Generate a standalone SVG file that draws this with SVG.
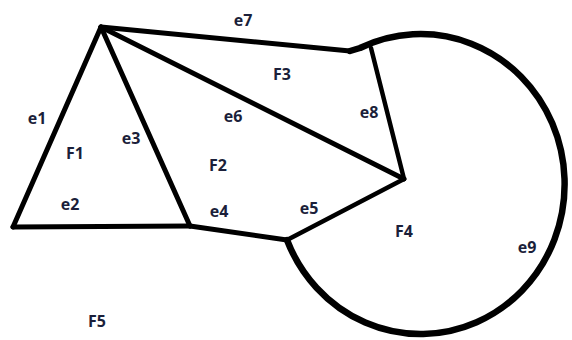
<svg xmlns="http://www.w3.org/2000/svg" width="572" height="340" viewBox="0 0 572 340">
<style>
.e{fill:none;stroke:#000;stroke-width:5;stroke-linecap:round;stroke-linejoin:round}
.t{font-family:"Open Sans","Liberation Sans",sans-serif;font-weight:700;font-size:16px;fill:#1b1f3a;text-anchor:middle;dominant-baseline:central}
</style>
<rect width="572" height="340" fill="#fff"/>
<g id="connectors">
<path id="e1" class="e" d="M101,27 L13,227"/>
<path id="e2" class="e" d="M13,227 L190,226"/>
<path id="e3" class="e" d="M101,27 L190,226"/>
<path id="e4" class="e" d="M190,226 L287,240"/>
<path id="e5" class="e" style="stroke-width:4.5" d="M287,240 L404,179"/>
<path id="e6" class="e" d="M101,27 L404,179"/>
<path id="e7" class="e" d="M101,27 L350,51"/>
<path id="e8" class="e" style="stroke-width:4.5" d="M371,48 L404,179"/>
<path id="e9" class="e" style="stroke-width:6.5" d="M350,51 L360,48 A144,150 0 1,1 287,240"/>
</g>
<g id="F1"><text class="t" x="75" y="153">F1</text></g>
<g id="F2"><text class="t" x="218" y="165">F2</text></g>
<g id="F3"><text class="t" x="282" y="74">F3</text></g>
<g id="F4"><text class="t" x="404" y="231">F4</text></g>
<g id="F5"><text class="t" x="97" y="321">F5</text></g>
<g id="labels">
<text class="t" x="243" y="20">e7</text>
<text class="t" x="37" y="118">e1</text>
<text class="t" x="131" y="138">e3</text>
<text class="t" x="233" y="116">e6</text>
<text class="t" x="369" y="112">e8</text>
<text class="t" x="70" y="204">e2</text>
<text class="t" x="219" y="211">e4</text>
<text class="t" x="309" y="208">e5</text>
<text class="t" x="527" y="247">e9</text>
</g>
</svg>
